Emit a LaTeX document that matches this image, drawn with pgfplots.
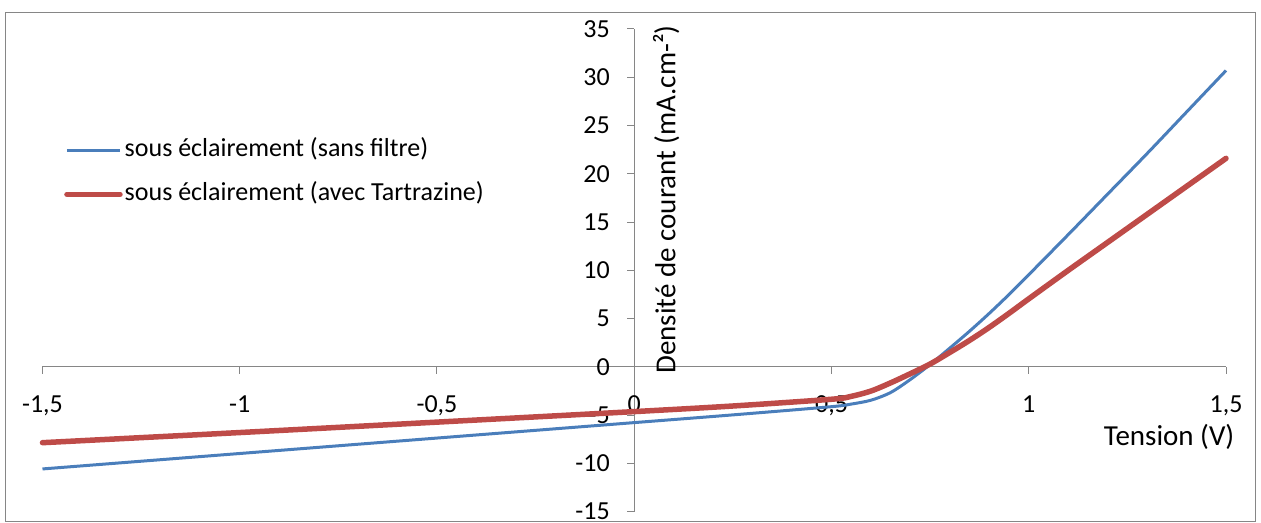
\documentclass[border=0pt]{standalone}
\usepackage{fontspec}
\setmainfont{Carlito}
\usepackage{pgfplots}
\pgfplotsset{compat=1.18}
\definecolor{axgray}{HTML}{868686}
\definecolor{cblue}{HTML}{4A7EBB}
\definecolor{cred}{HTML}{BE4B48}
\begin{document}
\begin{tikzpicture}
\begin{axis}[
  scale only axis, width=1183.5bp, height=482.7bp,
  xmin=-1.5, xmax=1.5, ymin=-15, ymax=35,
  enlargelimits=false,
  axis lines=middle,
  axis line style={draw=axgray, line width=1bp, -},
  every tick/.style={draw=axgray, line width=1bp},
  tick align=outside,
  major tick length=7bp,
  xtick={-1.5,-1,-0.5,0,0.5,1,1.5},
  ytick={-15,-10,-5,0,5,10,15,20,25,30,35},
  hide obscured x ticks=false, hide obscured y ticks=false,
  /pgf/number format/assume math mode=true,
  /pgf/number format/use comma,
  ticklabel style={font=\fontsize{26bp}{30bp}\selectfont},
  xticklabel style={yshift=-18bp},
  yticklabel style={xshift=-14bp},
  clip=false,
  legend cell align=left,
  legend style={draw=none, fill=none, at={(rel axis cs:0.0182,0.774)}, anchor=north west,
    inner sep=0pt, row sep=20bp, column sep=2bp,
    font=\fontsize{26bp}{30bp}\selectfont,
    nodes={inner sep=0pt, text height=18bp, text depth=6bp}},
  legend image code/.code={\draw[#1] (0bp,0bp) -- (53bp,0bp);},
]
\addplot[cblue, line width=3bp, smooth] coordinates {
(-1.5,-10.57) (-1.0,-8.97) (-0.5,-7.37) (0.0,-5.77) (0.25,-4.97) (0.5,-4.12)
(0.55,-3.85) (0.6,-3.45) (0.65,-2.65) (0.7,-1.3) (0.75,0.25) (0.8,1.95)
(0.85,3.7) (0.9,5.55) (0.95,7.5) (1.0,9.55)
(1.1,13.7) (1.2,17.9) (1.3,22.1) (1.4,26.4) (1.5,30.7)};
\addlegendentry{sous éclairement (sans filtre)}
\addplot[cred, line width=5.5bp, smooth, line cap=round] coordinates {
(-1.5,-7.85) (-1.0,-6.8) (-0.5,-5.72) (0.0,-4.63) (0.25,-4.05) (0.5,-3.35)
(0.55,-3.05) (0.6,-2.5) (0.65,-1.65) (0.7,-0.7) (0.75,0.3) (0.8,1.5)
(0.85,2.75) (0.9,4.1) (0.95,5.55) (1.0,7.05)
(1.1,10.0) (1.2,12.9) (1.3,15.8) (1.4,18.7) (1.5,21.6)};
\addlegendentry{sous éclairement (avec Tartrazine)}
\node[rotate=90, anchor=north west, inner sep=0pt, font=\fontsize{29bp}{34bp}\selectfont]
  at (axis cs:0.047,-0.72) {Densité de courant (mA.cm-²)};
\node[anchor=east, inner sep=0pt, font=\fontsize{29bp}{34bp}\selectfont]
  at (axis cs:1.5216,-7.25) {Tension (V)};
\coordinate (bbsw) at (rel axis cs:-0.03591,-0.02134);
\coordinate (bbne) at (rel axis cs:1.02957,1.06008);
\coordinate (frsw) at (rel axis cs:-0.0313,-0.01927);
\coordinate (frne) at (rel axis cs:1.02492,1.03418);
\end{axis}
\pgfresetboundingbox
\path[use as bounding box] (bbsw) rectangle (bbne);
\draw[axgray, line width=1bp] (frsw) rectangle (frne);
\end{tikzpicture}
\end{document}
